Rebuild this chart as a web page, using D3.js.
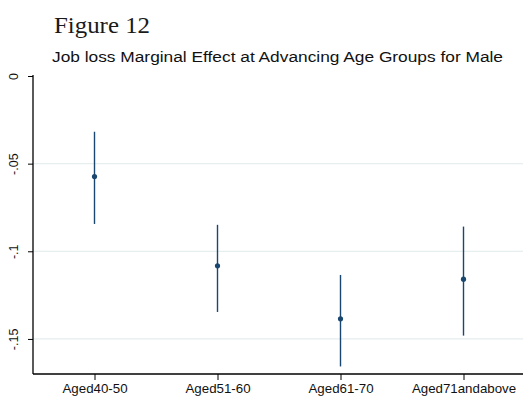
<!DOCTYPE html>
<html>
<head>
<meta charset="utf-8">
<script src="https://cdn.jsdelivr.net/npm/d3@7"></script>
<style>
  html, body { margin: 0; padding: 0; background: #fff; }
  svg { display: block; }
</style>
</head>
<body>
<svg id="chart" width="523" height="397"></svg>
<script>
// Marginal effects of job loss by age group, with confidence intervals
const categories = ["Aged40-50", "Aged51-60", "Aged61-70", "Aged71andabove"];
const estimates  = [-0.0574, -0.1083, -0.1385, -0.1159];
const ciLower    = [-0.0844, -0.1346, -0.1657, -0.1481];
const ciUpper    = [-0.0318, -0.0849, -0.1135, -0.0859];
const yTicks     = [0, -0.05, -0.1, -0.15];
const yTickLabels = ["0", "-.05", "-.1", "-.15"];

const svg = d3.select("#chart");
const W = 523, H = 397;
const plotLeft = 33, plotRight = 525, plotTop = 76, plotBottom = 374;
const color = "#1a476f";

const x = d3.scalePoint().domain(categories).range([plotLeft, plotRight]).padding(0.5);
const y = d3.scaleLinear().domain([-0.17, 0]).range([plotBottom, plotTop]);

// headings
svg.append("text")
  .attr("x", 54).attr("y", 32.5)
  .attr("font-family", "'Liberation Serif', 'DejaVu Serif', serif")
  .attr("font-size", 22.5)
  .attr("textLength", 96)
  .attr("lengthAdjust", "spacingAndGlyphs")
  .attr("fill", "#1a1a1a")
  .text("Figure 12");

svg.append("text")
  .attr("x", 52).attr("y", 62)
  .attr("font-family", "'Liberation Sans', Arial, sans-serif")
  .attr("font-size", 15.5)
  .attr("textLength", 451)
  .attr("lengthAdjust", "spacingAndGlyphs")
  .attr("fill", "#111")
  .text("Job loss Marginal Effect at Advancing Age Groups for Male");

// horizontal grid lines
svg.append("g")
  .selectAll("line")
  .data(yTicks.filter(d => d !== 0))
  .join("line")
  .attr("x1", plotLeft).attr("x2", W)
  .attr("y1", d => y(d)).attr("y2", d => y(d))
  .attr("stroke", "#e6eef0")
  .attr("stroke-width", 1.2);

// y axis
const yAxis = d3.axisLeft(y)
  .tickValues(yTicks)
  .tickFormat((d, i) => yTickLabels[i])
  .tickSize(5)
  .tickSizeOuter(0);
const gy = svg.append("g").attr("transform", `translate(${plotLeft},0)`).call(yAxis);
gy.select(".domain").attr("stroke", "#000").attr("stroke-width", 1.3)
  .attr("d", `M0,${plotTop - 1}V${plotBottom}`);
gy.selectAll(".tick line").attr("stroke", "#000").attr("stroke-width", 1);
gy.selectAll(".tick text")
  .attr("font-family", "'Liberation Sans', Arial, sans-serif")
  .attr("font-size", 12.5)
  .attr("fill", "#111")
  .attr("text-anchor", "middle")
  .attr("dy", 0)
  .attr("transform", "translate(-18,0) rotate(-90)")
  .attr("x", 0).attr("y", 0)
  .attr("dominant-baseline", "middle");

// x axis
const xAxis = d3.axisBottom(x).tickSize(6).tickSizeOuter(0);
const gx = svg.append("g").attr("transform", `translate(0,${plotBottom})`).call(xAxis);
gx.select(".domain").attr("stroke", "#000").attr("stroke-width", 1.3)
  .attr("d", `M${plotLeft},0H${W}`);
gx.selectAll(".tick line").attr("stroke", "#000").attr("stroke-width", 1);
gx.selectAll(".tick text")
  .attr("font-family", "'Liberation Sans', Arial, sans-serif")
  .attr("font-size", 13.3)
  .attr("fill", "#111")
  .attr("y", 10);

// confidence intervals
svg.append("g")
  .selectAll("line")
  .data(categories)
  .join("line")
  .attr("x1", d => x(d)).attr("x2", d => x(d))
  .attr("y1", (d, i) => y(ciUpper[i]))
  .attr("y2", (d, i) => y(ciLower[i]))
  .attr("stroke", color)
  .attr("stroke-width", 1.4);

// point estimates
svg.append("g")
  .selectAll("circle")
  .data(categories)
  .join("circle")
  .attr("cx", d => x(d))
  .attr("cy", (d, i) => y(estimates[i]))
  .attr("r", 2.6)
  .attr("fill", color);
</script>
</body>
</html>
